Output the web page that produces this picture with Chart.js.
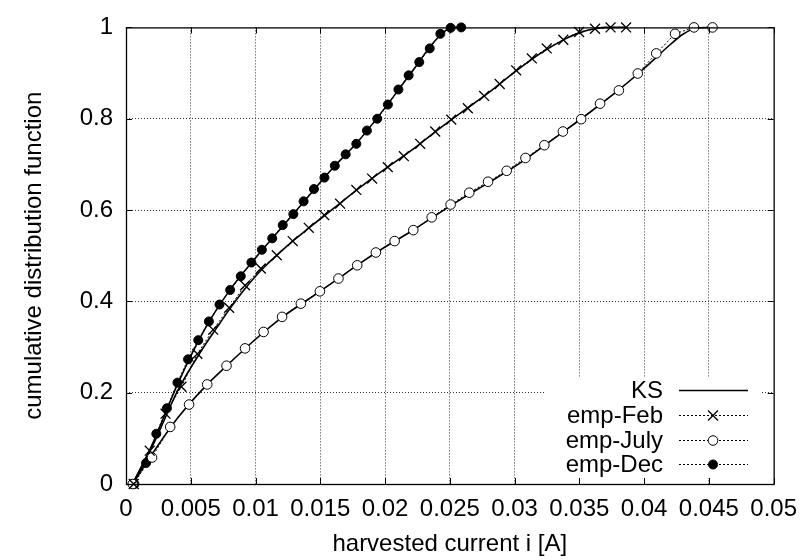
<!DOCTYPE html>
<html>
<head>
<meta charset="utf-8">
<script src="https://cdn.jsdelivr.net/npm/chart.js@4.4.1/dist/chart.umd.min.js"></script>
<style>
  html, body { margin: 0; padding: 0; background: #fff; }
</style>
</head>
<body>
<canvas id="cdfChart" width="808" height="560"></canvas>
<script>
const febX = [0.0006, 0.00183, 0.00305, 0.00428, 0.00551, 0.00673, 0.00796, 0.00919, 0.01041, 0.01164, 0.01287, 0.01411, 0.0153, 0.01653, 0.01778, 0.019, 0.02021, 0.02145, 0.02271, 0.02387, 0.02511, 0.02639, 0.02765, 0.02885, 0.03012, 0.03133, 0.03248, 0.03376, 0.03498, 0.03621, 0.03741, 0.03861];
const febY = [0, 0.073, 0.154, 0.213, 0.285, 0.338, 0.386, 0.435, 0.472, 0.501, 0.532, 0.561, 0.589, 0.614, 0.644, 0.669, 0.694, 0.718, 0.745, 0.772, 0.798, 0.823, 0.850, 0.876, 0.906, 0.932, 0.954, 0.973, 0.990, 0.997, 1.0, 1.0];

const julyX = [0.00052, 0.00201, 0.00341, 0.00487, 0.00627, 0.00776, 0.00919, 0.01062, 0.01205, 0.0135, 0.01497, 0.0164, 0.01785, 0.01929, 0.02074, 0.02218, 0.0236, 0.02506, 0.0265, 0.02795, 0.02939, 0.03084, 0.0323, 0.03373, 0.03514, 0.0366, 0.03805, 0.03951, 0.04094, 0.04239, 0.04385, 0.04528];
const julyY = [0, 0.058, 0.125, 0.174, 0.218, 0.259, 0.297, 0.333, 0.366, 0.395, 0.422, 0.450, 0.479, 0.507, 0.532, 0.556, 0.584, 0.612, 0.638, 0.662, 0.686, 0.714, 0.742, 0.772, 0.799, 0.833, 0.862, 0.899, 0.943, 0.986, 1.0, 1.0];

const decX = [0.00065, 0.00155, 0.00234, 0.00316, 0.00397, 0.00479, 0.00558, 0.0064, 0.00722, 0.00804, 0.00886, 0.00968, 0.01049, 0.01129, 0.0121, 0.01292, 0.01371, 0.01451, 0.01532, 0.01612, 0.01696, 0.01778, 0.0186, 0.0194, 0.02022, 0.02103, 0.02182, 0.02264, 0.02345, 0.02427, 0.02506, 0.02588];
const decY = [0, 0.046, 0.110, 0.166, 0.222, 0.273, 0.315, 0.356, 0.393, 0.425, 0.455, 0.485, 0.513, 0.538, 0.567, 0.591, 0.619, 0.646, 0.671, 0.697, 0.722, 0.745, 0.774, 0.800, 0.831, 0.864, 0.895, 0.924, 0.954, 0.986, 0.999, 1.0];

// KS fitted curves
const ksFebX = [0.0005, 0.002, 0.004, 0.006, 0.007, 0.008, 0.009, 0.010, 0.011, 0.012, 0.013, 0.014, 0.016, 0.018, 0.020, 0.022, 0.024, 0.026, 0.028, 0.030, 0.032, 0.034, 0.035, 0.036, 0.037, 0.0386];
const ksFebY = [0, 0.08, 0.205, 0.30, 0.342, 0.383, 0.421, 0.455, 0.484, 0.51, 0.535, 0.558, 0.603, 0.648, 0.69, 0.73, 0.774, 0.816, 0.857, 0.902, 0.943, 0.976, 0.988, 0.996, 1.0, 1.0];

const ksJulyX = [0.0005, 0.002, 0.004, 0.006, 0.008, 0.010, 0.012, 0.014, 0.016, 0.018, 0.020, 0.022, 0.024, 0.026, 0.028, 0.030, 0.032, 0.034, 0.036, 0.038, 0.040, 0.042, 0.043, 0.044, 0.0453];
const ksJulyY = [0, 0.065, 0.145, 0.21, 0.265, 0.317, 0.364, 0.403, 0.442, 0.482, 0.519, 0.553, 0.59, 0.626, 0.66, 0.695, 0.735, 0.776, 0.818, 0.862, 0.91, 0.962, 0.985, 0.998, 1.0];

const ksDecX = [0.0005, 0.002, 0.004, 0.006, 0.008, 0.010, 0.012, 0.014, 0.016, 0.018, 0.020, 0.022, 0.024, 0.0252, 0.026];
const ksDecY = [0, 0.085, 0.22, 0.335, 0.424, 0.495, 0.561, 0.627, 0.693, 0.753, 0.824, 0.900, 0.975, 1.0, 1.0];

const xTickLabels = ['0', '0.005', '0.01', '0.015', '0.02', '0.025', '0.03', '0.035', '0.04', '0.045', '0.05'];
const yTickLabels = ['0', '0.2', '0.4', '0.6', '0.8', '1'];
const legendLabels = ['KS', 'emp-Feb', 'emp-July', 'emp-Dec'];

const FONT = "'Liberation Sans', Arial, sans-serif";
const toPts = (xs, ys) => xs.map((x, i) => ({ x: x, y: ys[i] }));

function empSet(label, xs, ys, style, fill, radius, markWidth) {
    return {
        label: label,
        data: toPts(xs, ys),
        showLine: true,
        borderColor: '#000',
        borderWidth: 1,
        borderDash: [2, 2],
        pointStyle: style,
        pointRadius: radius,
        pointBorderWidth: markWidth,
        pointBorderColor: '#000',
        pointBackgroundColor: fill,
        clip: false
    };
}

function ksSet(xs, ys) {
    return {
        label: 'KS',
        data: toPts(xs, ys),
        showLine: true,
        borderColor: '#000',
        borderWidth: 1.6,
        pointRadius: 0,
        cubicInterpolationMode: 'monotone',
        clip: false
    };
}

// gnuplot-ish frame: border, inward ticks, key box
const framePlugin = {
    id: 'frame',
    afterDatasetsDraw(chart) {
        const ctx = chart.ctx;
        const a = chart.chartArea;
        const xs = chart.scales.x, ys = chart.scales.y;
        ctx.save();
        ctx.strokeStyle = '#000';
        ctx.lineWidth = 1;
        ctx.setLineDash([]);
        ctx.beginPath();
        xs.ticks.forEach(t => {
            const px = Math.round(xs.getPixelForValue(t.value)) + 0.5;
            ctx.moveTo(px, a.bottom); ctx.lineTo(px, a.bottom - 6);
            ctx.moveTo(px, a.top); ctx.lineTo(px, a.top + 6);
        });
        ys.ticks.forEach(t => {
            const py = Math.round(ys.getPixelForValue(t.value)) + 0.5;
            ctx.moveTo(a.left, py); ctx.lineTo(a.left + 6, py);
            ctx.moveTo(a.right, py); ctx.lineTo(a.right - 6, py);
        });
        ctx.stroke();
        ctx.lineWidth = 1.3;
        ctx.strokeRect(a.left + 0.5, a.top + 0.5, a.right - a.left, a.bottom - a.top);
        ctx.restore();
    },
    afterDraw(chart) {
        const ctx = chart.ctx;
        ctx.save();
        ctx.fillStyle = '#fff';
        ctx.fillRect(545, 377, 215, 101);
        ctx.font = '24px ' + FONT;
        ctx.textAlign = 'right';
        ctx.textBaseline = 'middle';
        ctx.strokeStyle = '#000';
        legendLabels.forEach((lab, i) => {
            const y = Math.round(390 + i * 24.8) + 0.5;
            ctx.fillStyle = '#000';
            ctx.fillText(lab, 663, y + 1);
            ctx.beginPath();
            ctx.lineWidth = i === 0 ? 1.6 : 1;
            ctx.setLineDash(i === 0 ? [] : [2, 2]);
            ctx.moveTo(679, y);
            ctx.lineTo(748, y);
            ctx.stroke();
            ctx.setLineDash([]);
            if (i > 0) {
                const ds = chart.data.datasets[i - 1];
                ctx.fillStyle = ds.pointBackgroundColor;
                ctx.lineWidth = ds.pointBorderWidth;
                ctx.beginPath();
                if (ds.pointStyle === 'circle') {
                    ctx.arc(713, y, ds.pointRadius, 0, Math.PI * 2);
                    ctx.fill();
                    ctx.stroke();
                } else {
                    const r = ds.pointRadius * Math.SQRT1_2;
                    ctx.moveTo(713 - r, y - r); ctx.lineTo(713 + r, y + r);
                    ctx.moveTo(713 - r, y + r); ctx.lineTo(713 + r, y - r);
                    ctx.stroke();
                }
            }
        });
        ctx.restore();
    }
};

const chart = new Chart(document.getElementById('cdfChart').getContext('2d'), {
    type: 'scatter',
    data: {
        datasets: [
            empSet('emp-Feb', febX, febY, 'crossRot', '#000', 7, 1.3),
            empSet('emp-July', julyX, julyY, 'circle', '#fff', 4.8, 1),
            empSet('emp-Dec', decX, decY, 'circle', '#000', 4.5, 1),
            ksSet(ksFebX, ksFebY),
            ksSet(ksJulyX, ksJulyY),
            ksSet(ksDecX, ksDecY)
        ]
    },
    options: {
        responsive: false,
        devicePixelRatio: 1,
        animation: false,
        layout: { padding: { top: 20, right: 30, left: 0, bottom: 0 } },
        plugins: {
            legend: { display: false },
            tooltip: { enabled: false }
        },
        scales: {
            x: {
                type: 'linear',
                min: 0,
                max: 0.05,
                afterFit: s => { s.height = 76; },
                ticks: {
                    stepSize: 0.005,
                    autoSkip: false,
                    maxRotation: 0,
                    padding: 11,
                    color: '#000',
                    font: { family: FONT, size: 24 },
                    callback: (v, i) => xTickLabels[i] ?? ''
                },
                grid: {
                    color: ctx => (ctx.index === 0 || ctx.index === 10) ? 'rgba(0,0,0,0)' : '#333',
                    lineWidth: 1,
                    drawTicks: false
                },
                border: { display: false, dash: [1, 2] },
                title: {
                    display: true,
                    text: 'harvested current i [A]',
                    color: '#000',
                    font: { family: FONT, size: 24 },
                    padding: { top: 0, bottom: 1 }
                }
            },
            y: {
                type: 'linear',
                min: 0,
                max: 1,
                afterFit: s => { s.width = 126; },
                ticks: {
                    stepSize: 0.2,
                    padding: 13,
                    color: '#000',
                    font: { family: FONT, size: 24 },
                    callback: (v, i) => yTickLabels[i] ?? ''
                },
                grid: {
                    color: ctx => (ctx.index === 0 || ctx.index === 5) ? 'rgba(0,0,0,0)' : '#333',
                    lineWidth: 1,
                    drawTicks: false
                },
                border: { display: false, dash: [1, 2] },
                title: {
                    display: true,
                    text: 'cumulative distribution function',
                    color: '#000',
                    font: { family: FONT, size: 24 },
                    padding: { top: 20, bottom: 0 }
                }
            }
        }
    },
    plugins: [framePlugin]
});
</script>
</body>
</html>
